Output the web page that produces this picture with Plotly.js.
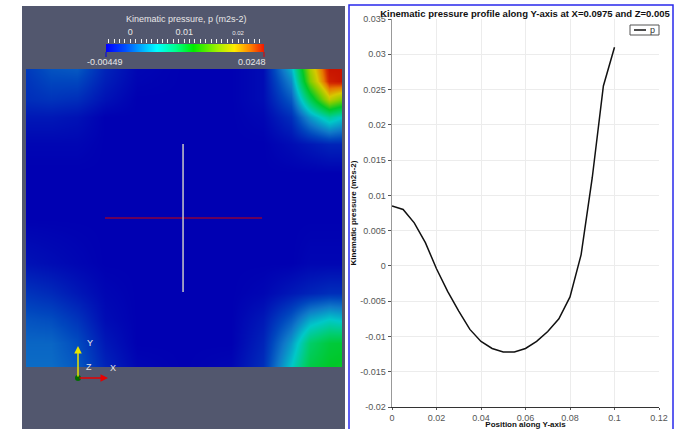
<!DOCTYPE html>
<html>
<head>
<meta charset="utf-8">
<script src="https://cdn.plot.ly/plotly-3.0.1.min.js"></script>
<style>html,body{margin:0;padding:0;background:#fff;}#chart{width:682px;height:429px;}</style>
</head>
<body>
<div id="chart"></div>
<script>
// ---- line profile data ----
const positionY = [0,0.005,0.01,0.015,0.02,0.025,0.03,0.035,0.04,0.045,0.05,0.055,0.06,0.065,0.07,0.075,0.08,0.085,0.09,0.095,0.1];
const pressureP = [0.0085,0.0080,0.0061,0.0033,-0.0004,-0.0036,-0.0064,-0.0090,-0.0107,-0.0117,-0.0122,-0.0122,-0.0117,-0.0107,-0.0093,-0.0075,-0.0044,0.0016,0.0125,0.0255,0.0310];
const seriesName = 'p';

const xTickVals = [0,0.02,0.04,0.06,0.08,0.1,0.12];
const xTickText = ['0','0.02','0.04','0.06','0.08','0.1','0.12'];
const yTickVals = [-0.02,-0.015,-0.01,-0.005,0,0.005,0.01,0.015,0.02,0.025,0.03,0.035];
const yTickText = ['-0.02','-0.015','-0.01','-0.005','0','0.005','0.01','0.015','0.02','0.025','0.03','0.035'];

// ---- pressure field (normalised domain coords, rows bottom -> top) ----
const gridU = [0,0.08,0.16,0.25,0.35,0.5,0.65,0.75,0.84,0.9,0.96,1];
const gridV = [0,0.08,0.16,0.25,0.35,0.5,0.65,0.75,0.84,0.9,0.96,1];
const pField = [
  [0.0008,0.0008,-0.0001,-0.0027,-0.0042,-0.0045,-0.0042,-0.0022,0.0049,0.0102,0.0116,0.0119],
  [0.0005,0.0005,-0.0007,-0.0033,-0.0045,-0.0045,-0.0045,-0.0027,0.0028,0.0087,0.0107,0.0110],
  [-0.0004,-0.0007,-0.0019,-0.0039,-0.0045,-0.0045,-0.0045,-0.0033,-0.0001,0.0034,0.0049,0.0043],
  [-0.0019,-0.0024,-0.0033,-0.0042,-0.0045,-0.0045,-0.0045,-0.0042,-0.0033,-0.0027,-0.0022,-0.0022],
  [-0.0036,-0.0039,-0.0042,-0.0045,-0.0045,-0.0045,-0.0045,-0.0045,-0.0045,-0.0042,-0.0042,-0.0042],
  [-0.0045,-0.0045,-0.0045,-0.0045,-0.0045,-0.0045,-0.0045,-0.0045,-0.0045,-0.0045,-0.0045,-0.0045],
  [-0.0045,-0.0045,-0.0045,-0.0045,-0.0045,-0.0045,-0.0045,-0.0045,-0.0045,-0.0045,-0.0045,-0.0045],
  [-0.0042,-0.0042,-0.0042,-0.0045,-0.0045,-0.0045,-0.0045,-0.0045,-0.0039,-0.0033,-0.0027,-0.0027],
  [-0.0033,-0.0033,-0.0036,-0.0045,-0.0045,-0.0045,-0.0045,-0.0042,-0.0022,0.0028,0.0066,0.0049],
  [-0.0022,-0.0019,-0.0022,-0.0036,-0.0045,-0.0045,-0.0045,-0.0039,-0.0001,0.0096,0.0184,0.0160],
  [-0.0019,-0.0010,-0.0010,-0.0030,-0.0043,-0.0045,-0.0045,-0.0039,0.0020,0.0160,0.0242,0.0248],
  [-0.0016,-0.0004,-0.0001,-0.0027,-0.0042,-0.0045,-0.0045,-0.0039,0.0037,0.0175,0.0248,0.0248]
];

// ---- colour bar ----
const cbRange = [-0.00449, 0.0248];
const cbTickVals = [0, 0.01, 0.02];
const cbTickText = ['0', '0.01', '<span style="font-size:6px">0.02</span>'];
const cbEndLabels = ['-0.00449', '0.0248'];

const barScale = [
  [0,'rgb(0,0,255)'],[0.12,'rgb(0,80,255)'],[0.22,'rgb(0,170,255)'],[0.32,'rgb(0,255,255)'],
  [0.44,'rgb(0,255,140)'],[0.55,'rgb(0,235,0)'],[0.7,'rgb(160,240,0)'],[0.81,'rgb(255,235,0)'],
  [0.91,'rgb(255,130,0)'],[1,'rgb(240,20,0)']
];
const fieldScale = [
  [0,'rgb(0,0,178)'],[0.12,'rgb(0,70,190)'],[0.2,'rgb(15,120,200)'],[0.32,'rgb(0,200,200)'],
  [0.44,'rgb(0,205,110)'],[0.55,'rgb(0,200,40)'],[0.7,'rgb(130,205,0)'],[0.81,'rgb(215,200,0)'],
  [0.9,'rgb(230,120,0)'],[0.96,'rgb(212,45,0)'],[1,'rgb(200,20,0)']
];

const W = 682, H = 429;
const px = v => v / W;
const py = v => 1 - v / H;
const FONT = 'Liberation Sans, Arial, sans-serif';
const PV_TEXT = '#e8e8e8';

const traces = [
  {
    type: 'heatmap', x: gridU, y: gridV, z: pField,
    zmin: cbRange[0], zmax: cbRange[1], zsmooth: 'best',
    colorscale: fieldScale, showscale: false, xaxis: 'x2', yaxis: 'y2', hoverinfo: 'skip'
  },
  {
    type: 'heatmap', x: cbRange, y: [0], z: [cbRange],
    zmin: cbRange[0], zmax: cbRange[1], zsmooth: 'best',
    colorscale: barScale, showscale: false, xaxis: 'x3', yaxis: 'y3', hoverinfo: 'skip'
  },
  {
    type: 'scatter', mode: 'lines', name: seriesName, x: positionY, y: pressureP,
    line: {color: '#111', width: 1.5}, xaxis: 'x', yaxis: 'y'
  }
];

const layout = {
  width: W, height: H,
  margin: {l: 0, r: 0, t: 0, b: 0},
  paper_bgcolor: '#ffffff', plot_bgcolor: 'rgba(0,0,0,0)',
  font: {family: FONT, size: 9, color: '#444'},
  showlegend: false,
  title: {
    text: '<b>Kinematic pressure profile along Y-axis at X=0.0975 and Z=0.005</b>',
    font: {family: FONT, size: 9.5, color: '#111'},
    x: px(525), xanchor: 'center', y: py(14), yanchor: 'middle'
  },
  xaxis: {
    domain: [px(392), px(659)], range: [0, 0.12], anchor: 'y',
    tickvals: xTickVals, ticktext: xTickText, ticks: 'outside', ticklen: 2, tickcolor: '#555',
    showgrid: true, gridcolor: '#ececec', gridwidth: 1, zeroline: false,
    showline: true, linecolor: '#333', linewidth: 1,
    tickfont: {family: FONT, size: 9, color: '#555'},
    title: {text: '<b>Position along Y-axis</b>', font: {family: FONT, size: 8, color: '#111'}, standoff: 0}
  },
  yaxis: {
    domain: [py(407), py(19)], range: [-0.02, 0.035], anchor: 'x',
    tickvals: yTickVals, ticktext: yTickText, ticks: 'outside', ticklen: 3, tickcolor: '#555',
    showgrid: true, gridcolor: '#ececec', gridwidth: 1, zeroline: false,
    showline: true, linecolor: '#999', linewidth: 1.5,
    tickfont: {family: FONT, size: 9, color: '#555'},
    title: {text: '<b>Kinematic pressure (m2s-2)</b>', font: {family: FONT, size: 8, color: '#111'}, standoff: 2}
  },
  xaxis2: {domain: [px(26), px(342)], range: [0, 1], anchor: 'y2', visible: false, fixedrange: true},
  yaxis2: {domain: [py(367), py(69)], range: [0, 1], anchor: 'x2', visible: false, fixedrange: true},
  xaxis3: {
    domain: [px(106), px(264)], range: cbRange, anchor: 'y3', side: 'top',
    tickvals: cbTickVals, ticktext: cbTickText, ticks: 'outside', ticklen: 4, tickcolor: '#f0f0f0', tickwidth: 1,
    minor: {dtick: 0.001, tick0: 0, ticks: 'outside', ticklen: 4, tickcolor: '#f0f0f0', tickwidth: 1, showgrid: false},
    showgrid: false, zeroline: false, showline: false,
    tickfont: {family: FONT, size: 9, color: PV_TEXT}
  },
  yaxis3: {domain: [py(52), py(44)], range: [-0.5, 0.5], anchor: 'x3', visible: false, fixedrange: true},
  shapes: [
    {type: 'rect', xref: 'paper', yref: 'paper', x0: px(22), x1: px(345), y0: py(6), y1: py(440),
     fillcolor: 'rgb(82,87,110)', line: {width: 0}, layer: 'below'},
    {type: 'rect', xref: 'paper', yref: 'paper', x0: px(349), x1: px(673), y0: py(5), y1: py(440),
     fillcolor: 'rgba(0,0,0,0)', line: {color: 'rgb(40,40,235)', width: 1.5}, layer: 'below'},
    {type: 'line', xref: 'x2', yref: 'y2', x0: 0.25, x1: 0.747, y0: 0.5, y1: 0.5,
     line: {color: 'rgb(210,0,0)', width: 1}},
    {type: 'line', xref: 'x2', yref: 'y2', x0: 0.497, x1: 0.497, y0: 0.252, y1: 0.748,
     line: {color: 'rgb(200,200,200)', width: 1.5}},
    {type: 'line', xref: 'paper', yref: 'paper', x0: px(106), x1: px(106), y0: py(52), y1: py(57),
     line: {color: 'rgb(0,0,230)', width: 1}},
    {type: 'line', xref: 'paper', yref: 'paper', x0: px(264), x1: px(264), y0: py(52), y1: py(57),
     line: {color: 'rgb(230,0,0)', width: 1}},
    {type: 'circle', xref: 'paper', yref: 'paper', x0: px(75), x1: px(81), y0: py(381), y1: py(375),
     fillcolor: 'rgb(0,110,0)', line: {width: 0}, layer: 'above'},
    // legend box
    {type: 'rect', xref: 'paper', yref: 'paper', x0: px(630), x1: px(659), y0: py(25), y1: py(35),
     fillcolor: '#ffffff', line: {color: '#555', width: 1}, layer: 'above'},
    {type: 'line', xref: 'paper', yref: 'paper', x0: px(634), x1: px(646), y0: py(30), y1: py(30),
     line: {color: '#111', width: 1.5}, layer: 'above'}
  ],
  annotations: [
    {xref: 'paper', yref: 'paper', x: px(652), y: py(29.5), text: seriesName, showarrow: false,
     font: {family: FONT, size: 9, color: '#333'}, xanchor: 'center', yanchor: 'middle'},
    {xref: 'paper', yref: 'paper', x: px(186), y: py(19), text: 'Kinematic pressure, p (m2s-2)',
     showarrow: false, font: {family: FONT, size: 9, color: PV_TEXT}, xanchor: 'center', yanchor: 'middle'},
    {xref: 'paper', yref: 'paper', x: px(105), y: py(62), text: cbEndLabels[0],
     showarrow: false, font: {family: FONT, size: 9, color: PV_TEXT}, xanchor: 'center', yanchor: 'middle'},
    {xref: 'paper', yref: 'paper', x: px(252), y: py(62), text: cbEndLabels[1],
     showarrow: false, font: {family: FONT, size: 9, color: PV_TEXT}, xanchor: 'center', yanchor: 'middle'},
    {xref: 'paper', yref: 'paper', x: px(78), y: py(346), ax: 0, ay: 32, text: '',
     showarrow: true, arrowhead: 2, arrowsize: 1, arrowwidth: 1.5, arrowcolor: 'rgb(230,230,0)'},
    {xref: 'paper', yref: 'paper', x: px(108), y: py(378), ax: -30, ay: 0, text: '',
     showarrow: true, arrowhead: 2, arrowsize: 1, arrowwidth: 1.5, arrowcolor: 'rgb(230,0,0)'},
    {xref: 'paper', yref: 'paper', x: px(85), y: py(350), text: 'Y', showarrow: false,
     font: {family: FONT, size: 9, color: PV_TEXT}},
    {xref: 'paper', yref: 'paper', x: px(84), y: py(374), text: 'Z', showarrow: false,
     font: {family: FONT, size: 9, color: PV_TEXT}},
    {xref: 'paper', yref: 'paper', x: px(108), y: py(375), text: 'X', showarrow: false,
     font: {family: FONT, size: 9, color: PV_TEXT}}
  ]
};

Plotly.newPlot('chart', traces, layout, {displayModeBar: false, staticPlot: true});
</script>
</body>
</html>
